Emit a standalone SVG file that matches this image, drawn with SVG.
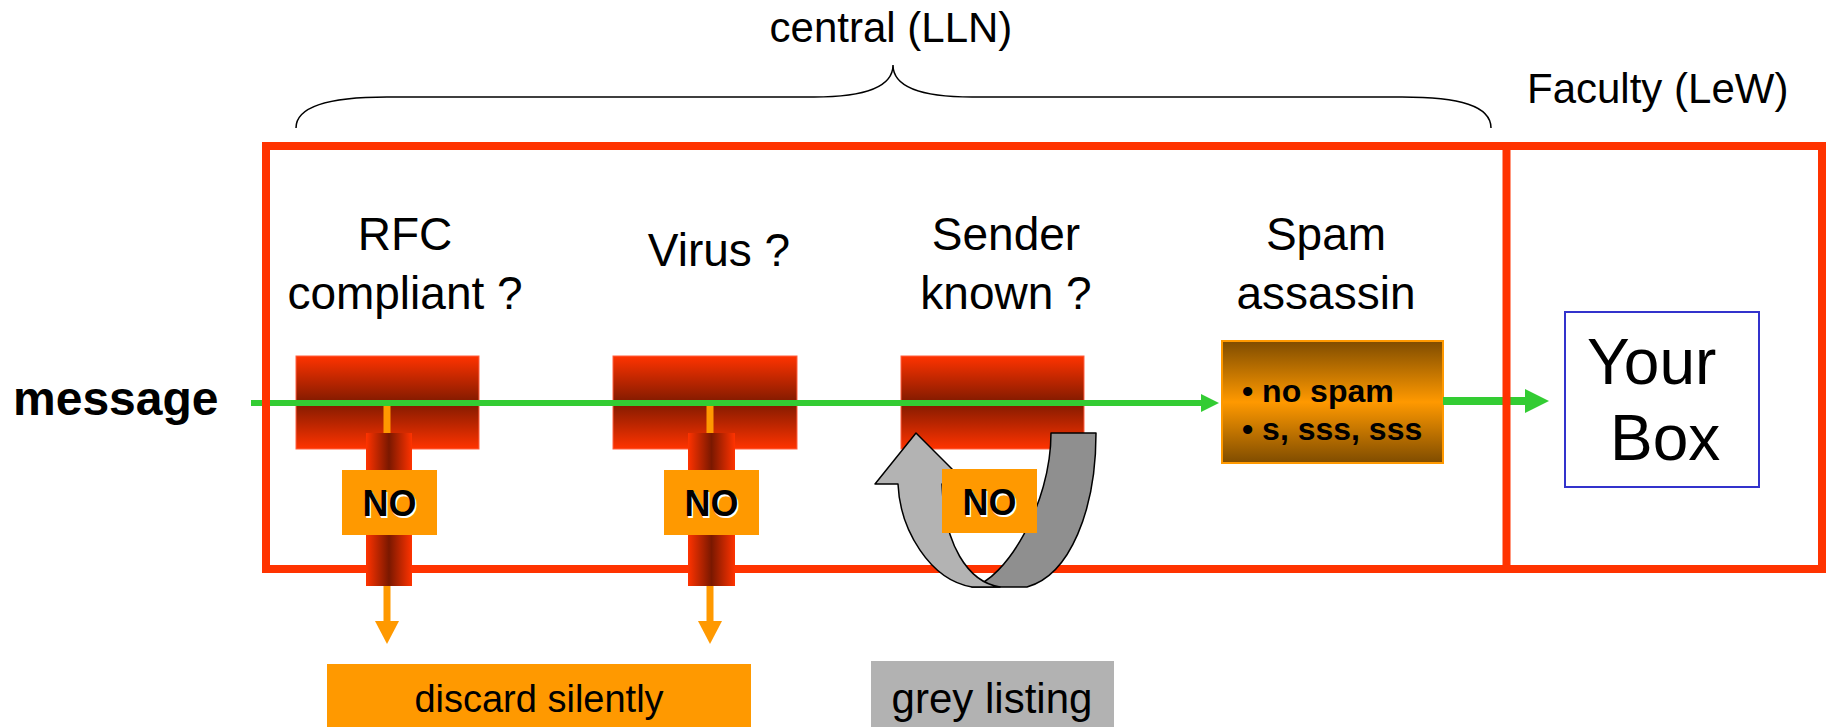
<svg xmlns="http://www.w3.org/2000/svg" width="1829" height="727" viewBox="0 0 1829 727">
<style>
  text { font-family: "Liberation Sans", Arial, sans-serif; fill: #000; }
  .head { font-size: 46px; text-anchor: middle; }
  .label { font-size: 42px; }
  .no { font-size: 36px; font-weight: bold; text-anchor: middle; }
  .noshadow { fill: #fff; }
  .nobox { fill: #FF9900; }
  .redbox { fill: url(#gRedV); stroke: #FF6040; stroke-width: 1; }
  .cyl { fill: url(#gRedH); }
  .green { stroke: #33CC33; fill: none; }
  .orange { stroke: #FF9900; stroke-width: 7; fill: none; }
  .frame { fill: none; stroke: #FF3300; stroke-width: 8; }
  .loop { stroke: #000; stroke-width: 1.5; stroke-linejoin: round; }
</style>
<defs>
  <linearGradient id="gRedV" x1="0" y1="0" x2="0" y2="1">
    <stop offset="0" stop-color="#FF3300"/>
    <stop offset="0.5" stop-color="#801A00"/>
    <stop offset="1" stop-color="#FF3300"/>
  </linearGradient>
  <linearGradient id="gRedH" x1="0" y1="0" x2="1" y2="0">
    <stop offset="0" stop-color="#FF3300"/>
    <stop offset="0.5" stop-color="#7A1800"/>
    <stop offset="1" stop-color="#FF3300"/>
  </linearGradient>
  <linearGradient id="gSpam" x1="0" y1="0" x2="0" y2="1">
    <stop offset="0" stop-color="#7F4C00"/>
    <stop offset="0.5" stop-color="#FF9900"/>
    <stop offset="1" stop-color="#7F4C00"/>
  </linearGradient>
  <marker id="mGreen" viewBox="0 0 18 18" refX="0" refY="9" markerWidth="18" markerHeight="18" markerUnits="userSpaceOnUse" orient="auto">
    <path d="M0,0 L18,9 L0,18 Z" fill="#33CC33"/>
  </marker>
  <marker id="mGreenBig" viewBox="0 0 24 24" refX="0" refY="12" markerWidth="24" markerHeight="24" markerUnits="userSpaceOnUse" orient="auto">
    <path d="M0,0 L24,12 L0,24 Z" fill="#33CC33"/>
  </marker>
  <marker id="mOrange" viewBox="0 0 23 24" refX="0" refY="12" markerWidth="23" markerHeight="24" markerUnits="userSpaceOnUse" orient="auto">
    <path d="M0,0 L23,12 L0,24 Z" fill="#FF9900"/>
  </marker>
</defs>

<g id="central-label">
  <path d="M296,128 C296,106 330,97 387,97 L814,97 C862,97 893,88 893,65 C893,88 924,97 972,97 L1402,97 C1460,97 1491,106 1491,128" fill="none" stroke="#000" stroke-width="1.5"/>
  <text class="label" x="891" y="42" text-anchor="middle">central (LLN)</text>
</g>
<g id="faculty-label">
  <text class="label" x="1527" y="103">Faculty (LeW)</text>
</g>
<g id="message-label">
  <text x="13" y="415" font-size="48" font-weight="bold">message</text>
</g>

<g id="rfc-check">
  <text class="head" x="405" y="250">RFC</text>
  <text class="head" x="405" y="309">compliant ?</text>
  <rect class="redbox" x="296" y="356" width="183" height="93"/>
</g>
<g id="virus-check">
  <text class="head" x="719" y="266">Virus ?</text>
  <rect class="redbox" x="613" y="356" width="184" height="93"/>
</g>
<g id="sender-check">
  <text class="head" x="1006" y="250">Sender</text>
  <text class="head" x="1006" y="309">known ?</text>
  <rect class="redbox" x="901" y="356" width="183" height="93"/>
</g>
<g id="spam-assassin">
  <text class="head" x="1326" y="250">Spam</text>
  <text class="head" x="1326" y="309">assassin</text>
  <rect x="1222" y="341" width="221" height="122" fill="url(#gSpam)" stroke="#FF9900" stroke-width="2"/>
  <text x="1242" y="402" font-size="32" font-weight="bold">• no spam</text>
  <text x="1242" y="440" font-size="32" font-weight="bold">• s, sss, sss</text>
</g>

<g id="connectors">
  <line class="orange" x1="387" y1="403" x2="387" y2="621" marker-end="url(#mOrange)"/>
  <line class="orange" x1="710" y1="403" x2="710" y2="621" marker-end="url(#mOrange)"/>
  <line class="green" x1="251" y1="403" x2="1201" y2="403" stroke-width="6" marker-end="url(#mGreen)"/>
  <line class="green" x1="1443" y1="401" x2="1525" y2="401" stroke-width="8" marker-end="url(#mGreenBig)"/>
</g>

<g id="frame">
  <rect class="frame" x="266" y="146" width="1556" height="423"/>
  <line x1="1506.5" y1="146" x2="1506.5" y2="569" stroke="#FF3300" stroke-width="8"/>
</g>

<g id="rfc-no">
  <rect class="cyl" x="366" y="433" width="46" height="153"/>
  <rect class="nobox" x="342" y="470" width="95" height="65"/>
  <text class="no noshadow" x="391" y="518">NO</text>
  <text class="no" x="389.5" y="516">NO</text>
</g>
<g id="virus-no">
  <rect class="cyl" x="688" y="433" width="47" height="153"/>
  <rect class="nobox" x="664" y="470" width="95" height="65"/>
  <text class="no noshadow" x="713" y="518">NO</text>
  <text class="no" x="711.5" y="516">NO</text>
</g>
<g id="grey-loop">
  <path class="loop" fill="#8F8F8F" d="M1051,433 L1096,433 C1096,510 1070,575 1027,587 L972,587 C1005,580 1051,505 1051,433 Z"/>
  <path class="loop" fill="#B3B3B3" d="M916,433 L965,482 L942,484 C944,545 968,582 1000,587 L972,587 C930,580 900,530 898,484 L875,484 Z"/>
</g>
<g id="sender-no">
  <rect class="nobox" x="942" y="469" width="95" height="64"/>
  <text class="no noshadow" x="991" y="517">NO</text>
  <text class="no" x="989.5" y="515">NO</text>
</g>

<g id="your-box">
  <rect x="1565" y="312" width="194" height="175" fill="#fff" stroke="#3333CC" stroke-width="2"/>
  <text x="1587" y="384" font-size="64">Your</text>
  <text x="1610" y="460" font-size="64">Box</text>
</g>
<g id="discard">
  <rect x="327" y="664" width="424" height="63" fill="#FF9900"/>
  <text x="539" y="712" font-size="38" text-anchor="middle">discard silently</text>
</g>
<g id="grey-listing">
  <rect x="871" y="661" width="243" height="66" fill="#B2B2B2"/>
  <text x="992" y="713" font-size="42" text-anchor="middle">grey listing</text>
</g>
</svg>
